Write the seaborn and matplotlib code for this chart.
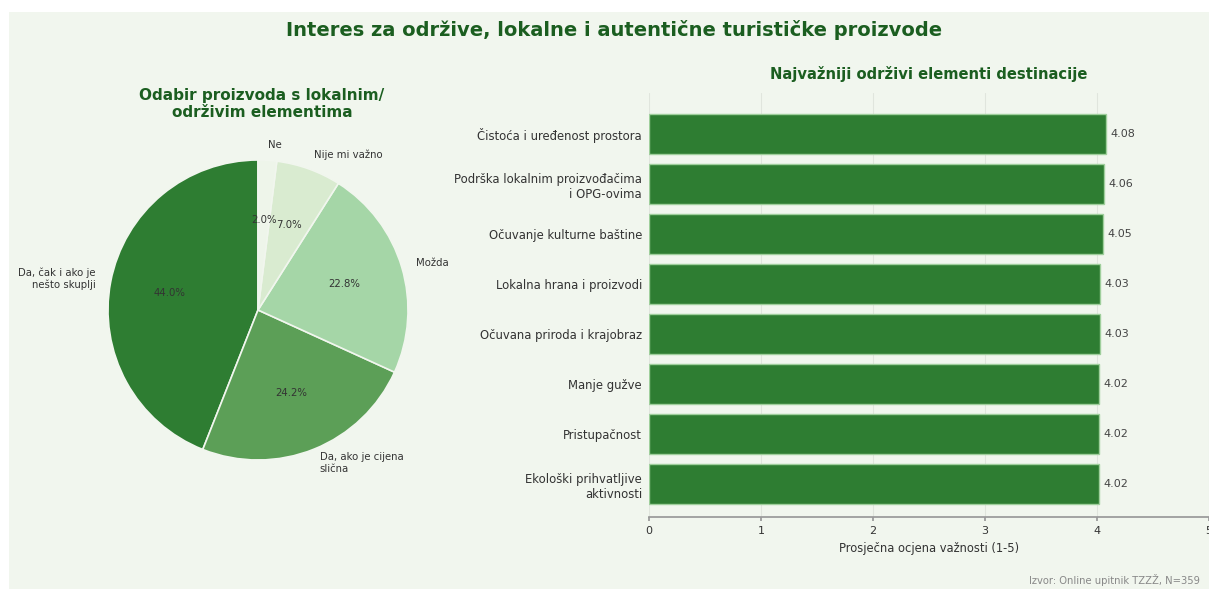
import matplotlib
matplotlib.use("Agg")
import matplotlib.pyplot as plt
import seaborn as sns
import pandas as pd
from matplotlib.patches import Rectangle

# Data
pie_labels = ["Da, čak i ako je\nnešto skuplji", "Da, ako je cijena\nslična", "Možda", "Nije mi važno", "Ne"]
pie_values = [44.0, 24.2, 22.8, 7.0, 2.0]
pie_colors = ["#2e7d32", "#5c9f57", "#a5d6a7", "#d9ebd0", "#eef5ea"]

elements = [
    "Čistoća i uređenost prostora",
    "Podrška lokalnim proizvođačima\ni OPG-ovima",
    "Očuvanje kulturne baštine",
    "Lokalna hrana i proizvodi",
    "Očuvana priroda i krajobraz",
    "Manje gužve",
    "Pristupačnost",
    "Ekološki prihvatljive\naktivnosti",
]
scores = [4.08, 4.06, 4.05, 4.03, 4.03, 4.02, 4.02, 4.02]

BG = "#f1f6ee"
DARK_GREEN = "#1b5e20"
BAR_GREEN = "#2e7d32"

sns.set_theme(style="whitegrid", rc={
    "axes.facecolor": BG,
    "figure.facecolor": "white",
    "grid.color": "#e2e6df",
    "axes.edgecolor": "#999999",
})
plt.rcParams['font.family'] = ['DejaVu Sans']

W, H = 1209, 589
fig = plt.figure(figsize=(W / 100, H / 100), dpi=100)
fig.patches.append(Rectangle((9 / W, 0), 1 - 9 / W, 1 - 12 / H, transform=fig.transFigure,
                             facecolor=BG, edgecolor="none", zorder=-10))

fig.text(614 / W, 1 - 30 / H, "Interes za održive, lokalne i autentične turističke proizvode",
         ha="center", va="center", fontsize=14, weight="bold", color=DARK_GREEN)

# Pie chart
ax_pie = fig.add_axes([108 / W, 129 / H, 300 / W, 300 / H])
ax_pie.pie(pie_values, labels=pie_labels, colors=pie_colors, startangle=90,
           autopct="%1.1f%%", pctdistance=0.6, labeldistance=1.1,
           wedgeprops={"edgecolor": BG, "linewidth": 1.2},
           textprops={"fontsize": 7.3, "color": "#333333"})
ax_pie.set_xlim(-1, 1)
ax_pie.set_ylim(-1, 1)
fig.text(262 / W, 1 - 104 / H, "Odabir proizvoda s lokalnim/\nodrživim elementima",
         ha="center", va="center", fontsize=11, weight="bold", color=DARK_GREEN, linespacing=1.15)

# Bar chart
df = pd.DataFrame({"element": elements, "score": scores})
ax_bar = fig.add_axes([649 / W, 72 / H, 560 / W, 424 / H])
sns.barplot(data=df, y="element", x="score", orient="h", color=BAR_GREEN,
            width=0.8, edgecolor="#9fcf9c", linewidth=1, saturation=1, ax=ax_bar)
for bar, val in zip(ax_bar.patches, scores):
    ax_bar.text(bar.get_width() + 0.04, bar.get_y() + bar.get_height() / 2, f"{val:.2f}",
                ha="left", va="center", fontsize=8, color="#444444")
ax_bar.set_xlim(0, 5)
ax_bar.set_ylim(7.66, -0.82)
ax_bar.set_xticks([0, 1, 2, 3, 4, 5])
ax_bar.set_xlabel("Prosječna ocjena važnosti (1-5)", fontsize=8.3, color="#333333")
ax_bar.set_ylabel("")
ax_bar.grid(axis="y", visible=False)
ax_bar.grid(axis="x", color="#e0e5dd", linewidth=0.8)
ax_bar.tick_params(axis="y", length=0, pad=5, labelsize=8.4, labelcolor="#333333")
ax_bar.tick_params(axis="x", length=3, color="#999999", labelsize=8, labelcolor="#333333", bottom=True)
for spine in ["top", "right", "left"]:
    ax_bar.spines[spine].set_visible(False)
ax_bar.spines["bottom"].set_color("#999999")
ax_bar.set_title("Najvažniji održivi elementi destinacije", fontsize=10.6, weight="bold",
                 color=DARK_GREEN, pad=10)

fig.text(1200 / W, 1 - 580 / H, "Izvor: Online upitnik TZZŽ, N=359", ha="right", va="center",
         fontsize=7.2, color="#888888")

fig.savefig("out.png", dpi=100)
